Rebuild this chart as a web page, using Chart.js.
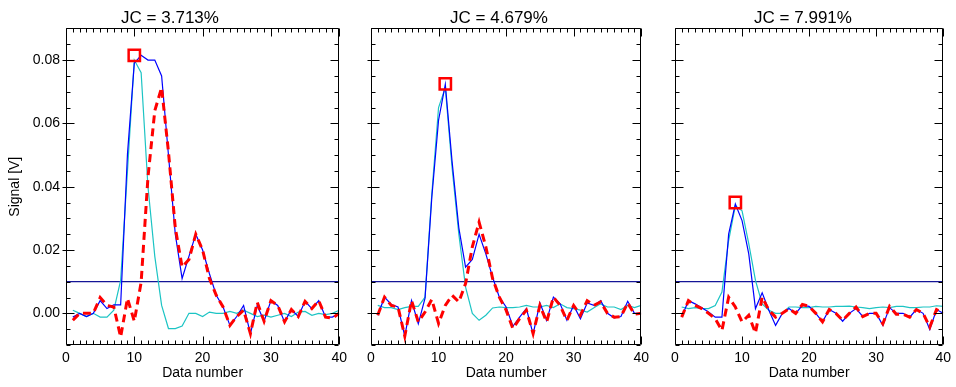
<!DOCTYPE html>
<html lang="en">
<head>
<meta charset="utf-8">
<script src="https://cdn.jsdelivr.net/npm/chart.js@4/dist/chart.umd.min.js"></script>
<style>
    body { margin: 0; background: #fff; }
    .panel { position: absolute; top: 0; }
</style>
</head>
<body>

<canvas id="panel0" class="panel"></canvas>
<canvas id="panel1" class="panel"></canvas>
<canvas id="panel2" class="panel"></canvas>

<script>

    var dataNumber = [1, 2, 3, 4, 5, 6, 7, 8, 9, 10, 11, 12, 13, 14, 15, 16, 17, 18, 19, 20,
        21, 22, 23, 24, 25, 26, 27, 28, 29, 30, 31, 32, 33, 34, 35, 36, 37, 38, 39, 40];

    var titles = ['JC = 3.713%', 'JC = 4.679%', 'JC = 7.991%'];
    var xTicks = [0, 10, 20, 30, 40];
    var yTicks = [0, 0.02, 0.04, 0.06, 0.08];
    var thresholds = [0.01, 0.01, 0.01];
    var peakX = [10, 11, 9];
    var peakY = [0.0815, 0.0725, 0.035];

    // panel 1
    var blue1 = [-0.0012, 0.0, -0.001, 0.0, 0.004, 0.0015, 0.0027, 0.0027, 0.0503, 0.079,
        0.0815, 0.080, 0.080, 0.075, 0.050, 0.025, 0.011, 0.018, 0.025, 0.020,
        0.0125, 0.0057, 0.002, -0.0038, -0.001, 0.0025, -0.0064, 0.0025, -0.0025, 0.004,
        0.0025, -0.0027, 0.0012, -0.001, 0.0038, 0.0015, 0.004, -0.0012, -0.0012, 0.0];
    var red1 = [-0.0022, 0.0, 0.0, 0.0, 0.005, 0.0025, 0.002, -0.0075, 0.0047, -0.0025,
        0.0098, 0.043, 0.064, 0.0713, 0.051, 0.027, 0.0146, 0.017, 0.025, 0.020,
        0.011, 0.0057, 0.002, -0.0038, -0.001, 0.001, -0.0064, 0.0035, -0.0025, 0.004,
        0.0025, -0.0027, 0.0012, -0.001, 0.0038, 0.0015, 0.004, -0.0012, -0.0015, 0.0];
    var cyan1 = [0.001, 0.0, -0.001, 0.0, -0.0012, -0.0012, 0.001, 0.0104, 0.045, 0.080,
        0.076, 0.040, 0.018, 0.0025, -0.0048, -0.0048, -0.004, 0.0, 0.0, -0.001,
        0.0004, 0.0, 0.0, 0.0006, 0.0, 0.001, 0.0, -0.001, -0.0006, -0.0012,
        -0.0006, 0.0, -0.001, 0.0004, 0.0006, -0.0006, 0.0, -0.0004, 0.0, 0.001];

    // panel 2
    var blue2 = [-0.0006, 0.0051, 0.0028, 0.002, -0.0072, 0.004, -0.0033, 0.0048, 0.0366, 0.061,
        0.0723, 0.048, 0.027, 0.0146, 0.017, 0.025, 0.0188, 0.0114, 0.0051, 0.002,
        -0.0041, -0.0012, 0.0015, -0.0066, 0.0033, -0.0022, 0.0051, 0.003, -0.0022, 0.0025,
        -0.0017, 0.0033, 0.0025, 0.004, 0.0, -0.0014, -0.001, 0.0038, 0.0, 0.0];
    var red2 = [-0.0006, 0.0051, 0.0025, 0.002, -0.0072, 0.004, -0.0027, 0.0004, 0.0044, -0.0032,
        0.0025, 0.0057, 0.0036, 0.0094, 0.021, 0.0288, 0.021, 0.011, 0.0051, 0.001,
        -0.0048, -0.0017, 0.001, -0.0064, 0.0025, -0.0027, 0.0051, 0.0025, -0.0022, 0.0025,
        -0.0006, 0.004, 0.0025, 0.0036, 0.0, -0.0012, -0.001, 0.0033, -0.0003, 0.0];
    var cyan2 = [0.0025, 0.0018, 0.0018, 0.0012, 0.0018, 0.0022, 0.0022, 0.0051, 0.0377, 0.065,
        0.0713, 0.046, 0.025, 0.0083, 0.0, -0.0022, -0.0006, 0.0017, 0.002, 0.0018,
        0.0018, 0.002, 0.0025, 0.002, 0.002, 0.0025, 0.0018, 0.003, 0.0018, 0.0015,
        0.001, 0.0004, 0.0018, 0.003, 0.002, 0.002, 0.0012, 0.0025, 0.0018, 0.0025];

    // panel 3
    var blue3 = [-0.0012, 0.004, 0.003, 0.0018, 0.0004, -0.0012, -0.0012, 0.025, 0.0345, 0.0293,
        0.0188, 0.0015, 0.0065, 0.001, -0.0038, 0.0, 0.0015, 0.0, 0.0025, 0.0022,
        0.0, -0.0027, 0.0012, 0.0, -0.0025, 0.0, 0.0015, -0.001, 0.0, 0.0,
        -0.0038, 0.0018, 0.0, 0.0, -0.0012, 0.0012, 0.0, -0.0051, 0.0012, 0.0];
    var red3 = [-0.0012, 0.004, 0.0025, 0.0015, 0.0, -0.0017, -0.0054, 0.0051, 0.002, -0.0027,
        -0.0006, -0.0062, 0.0051, 0.001, -0.0012, 0.0, 0.0015, 0.0, 0.0028, 0.0022,
        0.0, -0.0027, 0.0012, 0.0, -0.0022, 0.0, 0.002, -0.001, 0.0, 0.0,
        -0.0033, 0.0022, -0.0003, -0.0003, -0.0012, 0.0012, 0.0, -0.0043, 0.0012, 0.0];
    var cyan3 = [0.002, 0.0015, 0.0018, 0.0015, 0.0015, 0.0025, 0.0067, 0.023, 0.034, 0.0324,
        0.022, 0.0104, 0.003, 0.001, 0.0, 0.0, 0.002, 0.002, 0.0018, 0.0018,
        0.0022, 0.002, 0.002, 0.0022, 0.0022, 0.0023, 0.002, 0.0018, 0.0015, 0.0018,
        0.002, 0.0018, 0.0022, 0.0022, 0.0018, 0.0018, 0.002, 0.002, 0.0024, 0.0022];

    var blueSeries = [blue1, blue2, blue3];
    var redSeries = [red1, red2, red3];
    var cyanSeries = [cyan1, cyan2, cyan3];

    // canvas placement so the three plot frames line up like the original
    var panelLeft = [0, 354, 658];
    var panelWidth = [352, 300, 298];
    var yAxisWidth = [66, 17, 17];
    var padRight = [12, 10, 8];
    var panelHeight = 387;

    var FONT = '"Liberation Sans", Arial, Helvetica, sans-serif';

    function points(values) {
        return values.map(function (v, i) { return {x: dataNumber[i], y: v}; });
    }

    function near(list, v) {
        return list.some(function (t) { return Math.abs(t - v) < 1e-9; });
    }

    // IDL-style box: frame plus inward major/minor ticks on all sides
    var idlFrame = {
        id: 'idlFrame',
        afterDatasetsDraw: function (chart) {
            var ctx = chart.ctx;
            var a = chart.chartArea;
            var xs = chart.scales.x;
            var ys = chart.scales.y;
            var L = Math.round(a.left) + 0.5, R = Math.round(a.right) - 0.5;
            var T = Math.round(a.top) + 0.5, B = Math.round(a.bottom) - 0.5;

            ctx.save();
            ctx.strokeStyle = '#000';
            ctx.lineWidth = 1;
            ctx.beginPath();
            ctx.rect(L, T, R - L, B - T);

            var k, v, p, len;
            for (k = xs.min; k <= xs.max; k += 1) {
                p = Math.round(xs.getPixelForValue(k)) + 0.5;
                len = near(xTicks, k) ? 8 : 4;
                ctx.moveTo(p, B); ctx.lineTo(p, B - len);
                ctx.moveTo(p, T); ctx.lineTo(p, T + len);
            }
            for (k = Math.ceil(ys.min / 0.005 - 1e-6); k <= Math.floor(ys.max / 0.005 + 1e-6); k++) {
                v = k * 0.005;
                p = Math.round(ys.getPixelForValue(v)) + 0.5;
                if (near(yTicks, v)) {
                    ctx.moveTo(L - 4, p); ctx.lineTo(L + 8, p);
                    ctx.moveTo(R, p); ctx.lineTo(R - 8, p);
                } else {
                    ctx.moveTo(L, p); ctx.lineTo(L + 4, p);
                    ctx.moveTo(R, p); ctx.lineTo(R - 4, p);
                }
            }
            ctx.stroke();
            ctx.restore();
        }
    };

    function makePanel(i) {
        var canvas = document.getElementById('panel' + i);
        canvas.width = panelWidth[i];
        canvas.height = panelHeight;
        canvas.style.left = panelLeft[i] + 'px';
        canvas.style.width = panelWidth[i] + 'px';
        canvas.style.height = panelHeight + 'px';

        var first = (i === 0);

        new Chart(canvas.getContext('2d'), {
            type: 'line',
            data: {
                datasets: [
                    {
                        data: [{x: peakX[i], y: peakY[i]}],
                        showLine: false,
                        pointStyle: 'rect',
                        pointRadius: 8,
                        pointBorderWidth: 2.5,
                        pointBorderColor: '#ff0000',
                        pointBackgroundColor: 'rgba(0,0,0,0)'
                    },
                    {
                        data: points(redSeries[i]),
                        borderColor: '#ff0000',
                        borderWidth: 3,
                        borderDash: [8, 5],
                        pointRadius: 0
                    },
                    {
                        data: points(blueSeries[i]),
                        borderColor: '#0000ff',
                        borderWidth: 1.2,
                        pointRadius: 0
                    },
                    {
                        data: points(cyanSeries[i]),
                        borderColor: '#1cc4c4',
                        borderWidth: 1.2,
                        pointRadius: 0
                    },
                    {
                        data: [{x: xTicks[0], y: thresholds[i]}, {x: xTicks[xTicks.length - 1], y: thresholds[i]}],
                        borderColor: '#141496',
                        borderWidth: 1.2,
                        pointRadius: 0
                    }
                ]
            },
            options: {
                responsive: false,
                animation: false,
                devicePixelRatio: 1,
                layout: {padding: {top: 0, right: padRight[i], bottom: 0, left: 0}},
                plugins: {
                    legend: {display: false},
                    tooltip: {enabled: false},
                    title: {
                        display: true,
                        text: titles[i],
                        color: '#000',
                        font: {family: FONT, size: 17, weight: 'normal'},
                        padding: {top: 8, bottom: 0}
                    }
                },
                scales: {
                    x: {
                        type: 'linear',
                        min: 0,
                        max: 40,
                        grid: {display: false, drawTicks: false},
                        border: {display: false},
                        afterBuildTicks: function (scale) {
                            scale.ticks = xTicks.map(function (t) { return {value: t}; });
                        },
                        afterFit: function (scale) { scale.height = 42; },
                        ticks: {
                            color: '#000',
                            padding: 5,
                            maxRotation: 0,
                            autoSkip: false,
                            font: {family: FONT, size: 14}
                        },
                        title: {
                            display: true,
                            text: 'Data number',
                            color: '#000',
                            font: {family: FONT, size: 14},
                            padding: {top: 0, bottom: 5}
                        }
                    },
                    y: {
                        min: -0.01,
                        max: 0.09,
                        grid: {display: false, drawTicks: false},
                        border: {display: false},
                        afterBuildTicks: function (scale) {
                            scale.ticks = yTicks.map(function (t) { return {value: t}; });
                        },
                        afterFit: function (scale) { scale.width = yAxisWidth[i]; },
                        ticks: {
                            display: first,
                            color: '#000',
                            padding: 6,
                            font: {family: FONT, size: 14},
                            callback: function (v) { return v.toFixed(2); }
                        },
                        title: {
                            display: first,
                            text: 'Signal [V]',
                            color: '#000',
                            font: {family: FONT, size: 14},
                            padding: {top: 7, bottom: 0}
                        }
                    }
                }
            },
            plugins: [idlFrame]
        });
    }

    makePanel(0);
    makePanel(1);
    makePanel(2);

</script>
</body>
</html>
